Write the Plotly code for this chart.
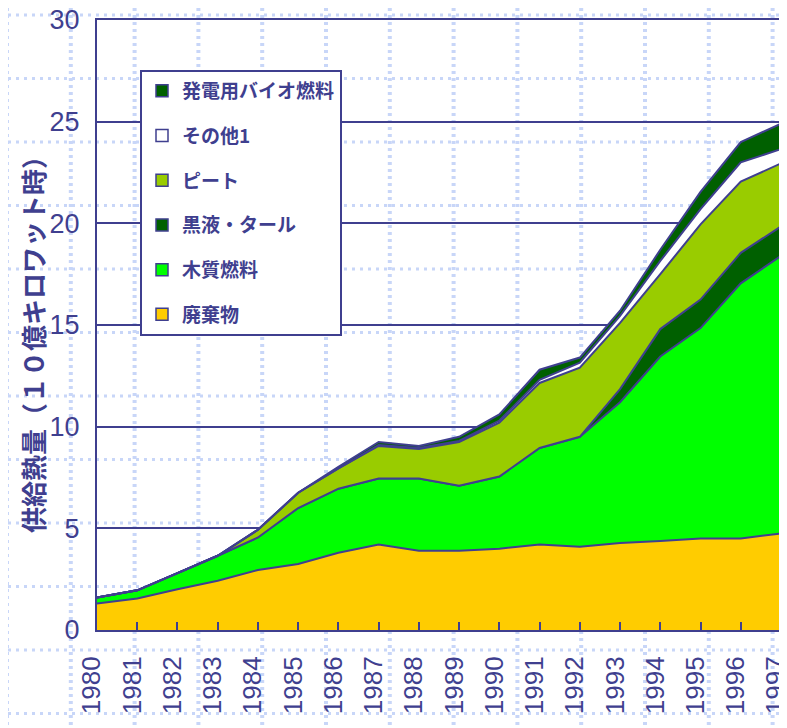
import plotly.graph_objects as go

years = list(range(1980, 1998))
year_labels = [str(y) for y in years]

waste = [1.30, 1.55, 2.00, 2.42, 2.95, 3.25, 3.80, 4.20, 3.90, 3.90, 4.00, 4.20, 4.10, 4.28, 4.38, 4.50, 4.50, 4.75]
wood = [0.30, 0.40, 0.80, 1.23, 1.60, 2.75, 3.15, 3.25, 3.55, 3.20, 3.55, 4.75, 5.40, 6.92, 9.07, 10.35, 12.55, 13.65]
black_liquor = [0, 0, 0, 0, 0, 0, 0, 0, 0, 0, 0, 0, 0, 0.65, 1.35, 1.40, 1.50, 1.45]
peat = [0, 0, 0, 0, 0.38, 0.75, 1.00, 1.60, 1.45, 2.15, 2.65, 3.20, 3.40, 3.25, 2.70, 3.70, 3.50, 3.10]
other1 = [0, 0, 0, 0, 0, 0, 0, 0.05, 0.05, 0.05, 0.10, 0.15, 0.25, 0.35, 0.65, 0.75, 0.95, 0.70]
bio_power = [0, 0, 0, 0, 0, 0, 0.08, 0.15, 0.10, 0.20, 0.30, 0.50, 0.25, 0.25, 0.55, 0.85, 1.00, 1.25]

series = [
    ("廃棄物", waste, "#ffcc00"),
    ("木質燃料", wood, "#00ff00"),
    ("黒液・タール", black_liquor, "#006000"),
    ("ピート", peat, "#99cc00"),
    ("その他1", other1, "#ffffff"),
    ("発電用バイオ燃料", bio_power, "#006000"),
]

NAVY = "#3f3f8f"
CJK = "Noto Sans CJK JP"

fig = go.Figure()
n = len(series)
for i, (name, vals, color) in enumerate(series):
    fig.add_trace(go.Scatter(
        x=years, y=vals, name=name, mode="lines",
        stackgroup="one", fillcolor=color,
        line=dict(color=NAVY, width=2),
        legendgroup=f"g{i}", showlegend=False,
        hoverinfo="x+y+name",
    ))
# legend entries (square swatches like the original), linked to the areas
for i, (name, vals, color) in enumerate(series):
    fig.add_trace(go.Bar(
        x=[None], y=[None], name=name,
        marker=dict(color=color, line=dict(color=NAVY, width=1.5)),
        legendgroup=f"g{i}", legendrank=n - i, showlegend=True,
        hoverinfo="skip",
    ))

# page body has an 8px margin: figure is placed at (8, 8) in the window
OFF = 8
W, H = 787 - OFF, 728 - OFF
# target plot-area edges in window pixels
L, R, T, B = 97, 781, 20, 630
def px_x(p):
    return (p - L) / (R - L)
def px_y(p):
    return (B - p) / (B - T)

shapes = []
for k in range(13):
    xp = 7 + 63.8 * k
    shapes.append(dict(type="line", xref="paper", yref="paper",
                       x0=px_x(xp), x1=px_x(xp), y0=px_y(OFF), y1=px_y(728),
                       line=dict(color="#c8d6f8", width=4, dash="3px,4px"), layer="below"))
for k in range(12):
    yp = 15 + 63.5 * k
    shapes.append(dict(type="line", xref="paper", yref="paper",
                       x0=px_x(OFF), x1=px_x(787), y0=px_y(yp), y1=px_y(yp),
                       line=dict(color="#c8d6f8", width=3, dash="3px,5px"), layer="below"))

fig.update_layout(
    width=W, height=H,
    margin=dict(l=L - OFF, r=787 - R, t=T - OFF, b=728 - B, autoexpand=False),
    paper_bgcolor="white", plot_bgcolor="white",
    showlegend=True,
    legend=dict(
        x=px_x(140), y=px_y(70), xanchor="left", yanchor="top",
        bgcolor="white", bordercolor=NAVY, borderwidth=2,
        font=dict(family=CJK, size=19, color=NAVY, weight="bold"),
        traceorder="grouped", tracegroupgap=17,
        itemwidth=30,
    ),
    shapes=shapes,
    annotations=[dict(
        text="供給熱量（１０億キロワット時）", textangle=-90,
        xref="paper", yref="paper", x=px_x(32), y=px_y(338),
        xanchor="center", yanchor="middle", showarrow=False,
        font=dict(family=CJK, size=26, color=NAVY, weight="bold"),
    )],
)

fig.update_xaxes(
    range=[1980, 1997], tickmode="array", tickvals=years, ticktext=year_labels,
    tickangle=-90, ticks="inside", ticklen=8, tickwidth=2, tickcolor=NAVY,
    showgrid=False, zeroline=False, automargin=False, ticklabeloverflow="allow",
    showline=True, mirror=True, linecolor=NAVY, linewidth=2,
    tickfont=dict(family="Liberation Sans", size=26, color=NAVY),
    ticklabelstandoff=14, ticklabelshift=-5,
)
fig.update_yaxes(
    range=[0, 30], tickmode="linear", tick0=0, dtick=5,
    ticks="inside", ticklen=6, tickwidth=2, tickcolor=NAVY,
    showgrid=True, gridcolor=NAVY, gridwidth=2, zeroline=False, automargin=False,
    ticklabeloverflow="allow",
    showline=True, mirror=True, linecolor=NAVY, linewidth=2,
    tickfont=dict(family="Liberation Sans Narrow, Liberation Sans", size=27, color=NAVY),
    ticklabelstandoff=10,
)

fig.write_html("out.html")
